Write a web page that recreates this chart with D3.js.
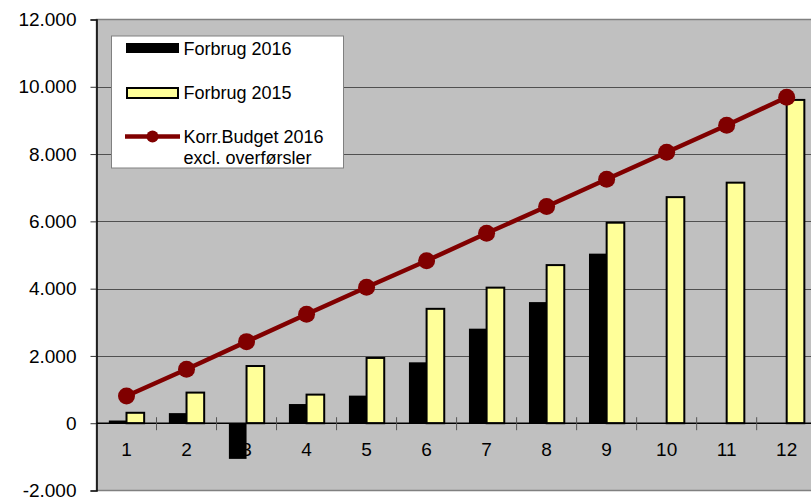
<!DOCTYPE html>
<html>
<head>
<meta charset="utf-8">
<script src="https://cdn.jsdelivr.net/npm/d3@7"></script>
<style>
  body { margin: 0; background: #fff; }
  svg { display: block; }
</style>
</head>
<body>
<script>
// month numbers and the three series
var months = ['1', '2', '3', '4', '5', '6', '7', '8', '9', '10', '11', '12'];
var forbrug2016 = [80, 300, -1060, 570, 820, 1810, 2810, 3600, 5040, null, null, null];
var forbrug2015 = [310, 910, 1700, 850, 1940, 3400, 4030, 4700, 5960, 6720, 7150, 9610];
var budget2016 = [810, 1605, 2425, 3240, 4040, 4830, 5645, 6440, 7250, 8055, 8855, 9690];
var yTicks = [-2000, 0, 2000, 4000, 6000, 8000, 10000, 12000];

var w = 811, h = 499;
var FONT = '"Liberation Sans", Arial, sans-serif';
var BUDGET_COLOR = '#800000';

var locale = d3.formatLocale({ decimal: ',', thousands: '.', grouping: [3], currency: ['', ''], minus: '-' });
var fmt = locale.format(',');

var svg = d3.select('body').append('svg')
  .attr('width', w)
  .attr('height', h)
  .style('font-family', FONT);

// plot area runs past the right edge of the window, like the original
var plotLeft = 96.5, plotRight = 816.7, plotTop = 19.5, plotBottom = 490.5;

var x0 = d3.scaleBand().domain(months).range([plotLeft, plotRight]);
var x1 = d3.scaleBand().domain(['2016', '2015']).range([0, x0.bandwidth()]).paddingOuter(0.7);
var y = d3.scaleLinear().domain([-2000, 12000]).range([plotBottom, plotTop]);

svg.append('rect')
  .attr('x', plotLeft).attr('y', plotTop)
  .attr('width', plotRight - plotLeft + 10).attr('height', plotBottom - plotTop)
  .attr('fill', '#c0c0c0')
  .attr('stroke', '#808080')
  .attr('stroke-width', 1.5);

// gridlines
svg.append('g').selectAll('line')
    .data(yTicks.filter(function(d) { return d > 0 && d < 12000; }))
  .enter().append('line')
    .attr('x1', plotLeft).attr('x2', w)
    .attr('y1', function(d) { return Math.round(y(d)) + 0.5; })
    .attr('y2', function(d) { return Math.round(y(d)) + 0.5; })
    .attr('stroke', '#505050')
    .attr('stroke-width', 1);

// y axis
var yAxis = svg.append('g')
  .attr('transform', 'translate(' + plotLeft + ',0)')
  .call(d3.axisLeft(y).tickValues(yTicks).tickFormat(fmt).tickSize(6).tickPadding(14));
yAxis.select('.domain').attr('stroke', '#000').attr('stroke-width', 1.5);
yAxis.selectAll('.tick line').attr('stroke', '#333');
yAxis.selectAll('text')
  .style('font-family', FONT)
  .style('font-size', '19px')
  .attr('fill', '#000');

// bars
var groups = svg.append('g').selectAll('g')
    .data(months)
  .enter().append('g')
    .attr('transform', function(d) { return 'translate(' + x0(d) + ',0)'; });

groups.filter(function(d, i) { return forbrug2016[i] !== null; })
  .append('rect')
    .attr('x', x1('2016'))
    .attr('width', x1.bandwidth())
    .attr('y', function(d) { var v = forbrug2016[months.indexOf(d)]; return y(Math.max(0, v)); })
    .attr('height', function(d) { var v = forbrug2016[months.indexOf(d)]; return Math.abs(y(v) - y(0)); })
    .attr('fill', '#000');

groups.append('rect')
    .attr('x', x1('2015'))
    .attr('width', x1.bandwidth())
    .attr('y', function(d) { return y(forbrug2015[months.indexOf(d)]); })
    .attr('height', function(d) { return y(0) - y(forbrug2015[months.indexOf(d)]); })
    .attr('fill', '#ffff99')
    .attr('stroke', '#000')
    .attr('stroke-width', 2);

// x axis at zero, with cross tick marks between months
svg.append('line')
  .attr('x1', plotLeft).attr('x2', w)
  .attr('y1', y(0)).attr('y2', y(0))
  .attr('stroke', '#000')
  .attr('stroke-width', 1.5);

svg.append('g').selectAll('line')
    .data(months.slice(1))
  .enter().append('line')
    .attr('x1', function(d) { return x0(d); })
    .attr('x2', function(d) { return x0(d); })
    .attr('y1', y(0) - 6).attr('y2', y(0) + 7)
    .attr('stroke', '#555');

svg.append('g').selectAll('text')
    .data(months)
  .enter().append('text')
    .attr('x', function(d) { return x0(d) + x0.bandwidth() / 2; })
    .attr('y', 456)
    .attr('text-anchor', 'middle')
    .style('font-size', '19px')
    .text(function(d) { return d; });

// budget line
var line = d3.line()
  .x(function(d, i) { return x0(months[i]) + x0.bandwidth() / 2; })
  .y(function(d) { return y(d); });

svg.append('path')
  .datum(budget2016)
  .attr('d', line)
  .attr('fill', 'none')
  .attr('stroke', BUDGET_COLOR)
  .attr('stroke-width', 4.5);

svg.append('g').selectAll('circle')
    .data(budget2016)
  .enter().append('circle')
    .attr('cx', function(d, i) { return x0(months[i]) + x0.bandwidth() / 2; })
    .attr('cy', function(d) { return y(d); })
    .attr('r', 8.5)
    .attr('fill', BUDGET_COLOR);

// legend
var legend = svg.append('g');
legend.append('rect')
  .attr('x', 111.5).attr('y', 36)
  .attr('width', 232).attr('height', 132)
  .attr('fill', '#fff')
  .attr('stroke', '#808080');

legend.append('rect')
  .attr('x', 126).attr('y', 43).attr('width', 53).attr('height', 10)
  .attr('fill', '#000');
legend.append('rect')
  .attr('x', 127).attr('y', 88).attr('width', 51).attr('height', 10)
  .attr('fill', '#ffff99')
  .attr('stroke', '#000')
  .attr('stroke-width', 2);
legend.append('line')
  .attr('x1', 125).attr('x2', 180)
  .attr('y1', 136.5).attr('y2', 136.5)
  .attr('stroke', BUDGET_COLOR)
  .attr('stroke-width', 4.5);
legend.append('circle')
  .attr('cx', 152.5).attr('cy', 136.5).attr('r', 6)
  .attr('fill', BUDGET_COLOR);

var legendText = [
  { t: 'Forbrug 2016', y: 55 },
  { t: 'Forbrug 2015', y: 98.5 },
  { t: 'Korr.Budget 2016', y: 142.5 },
  { t: 'excl. overførsler', y: 163.5 }
];
legend.selectAll('text.lt')
    .data(legendText)
  .enter().append('text')
    .attr('class', 'lt')
    .attr('x', 183.5)
    .attr('y', function(d) { return d.y; })
    .style('font-size', '18px')
    .text(function(d) { return d.t; });
</script>
</body>
</html>
